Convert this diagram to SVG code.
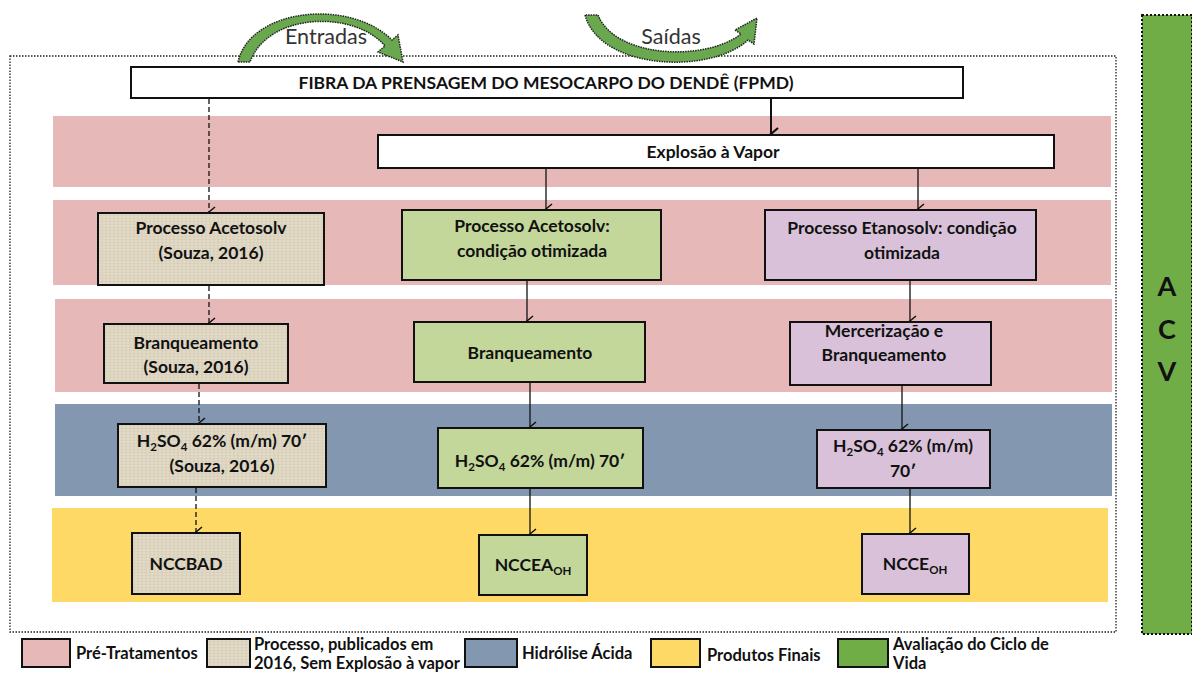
<svg xmlns="http://www.w3.org/2000/svg" width="1192" height="673" viewBox="0 0 1192 673">
<style>
.t{font-family:Lato,"Open Sans","Liberation Sans",sans-serif;font-weight:bold;fill:#111;font-size:17.5px;text-anchor:middle}
.s{font-size:11.5px}
.lg{font-family:Lato,"Open Sans","Liberation Sans",sans-serif;font-weight:bold;fill:#111;font-size:16.5px}
.box{stroke:#111;stroke-width:2}
.w{fill:#fff}.g{fill:#C4D79B}.p{fill:#D9C2D9}.b{fill:url(#tex)}
.band{stroke:none}
.c{stroke:#111;stroke-width:1.3;fill:none;marker-end:url(#ah)}
.d{stroke-dasharray:5,3}
.arc{fill:#6AA84F;stroke:#222;stroke-width:1.5;stroke-dasharray:1.5,1}
.lbl{font-family:Lato,"Open Sans","Liberation Sans",sans-serif;font-size:21.5px;fill:#333;text-anchor:middle}
</style>
<defs>
<pattern id="tex" width="8" height="6" patternUnits="userSpaceOnUse">
<rect width="8" height="6" fill="#DCD3BE"/>
<path d="M0,1H8M0,4H8" stroke="#E9E2D2" stroke-width="1"/>
<path d="M2,0V6M6,0V6" stroke="#CFC5AC" stroke-width="0.6"/>
</pattern>
<marker id="ah" markerWidth="12" markerHeight="12" refX="6" refY="10" orient="auto" markerUnits="userSpaceOnUse" viewBox="0 0 12 12">
<path d="M1,4 L6,10 L11,4" fill="none" stroke="#111" stroke-width="1.5"/>
</marker>
<marker id="ah2" markerWidth="14" markerHeight="14" refX="7" refY="12" orient="auto" markerUnits="userSpaceOnUse" viewBox="0 0 14 14">
<path d="M1,5 L7,12 L13,5" fill="none" stroke="#111" stroke-width="2.2"/>
</marker>
</defs>
<rect width="1192" height="673" fill="#fff"/>

<!-- outer dotted frame -->
<rect x="10" y="56" width="1106" height="576" fill="none" stroke="#222" stroke-width="1.3" stroke-dasharray="1.5,1.5"/>

<!-- bands -->
<g id="bands">
<rect class="band" x="53" y="116" width="1058" height="71" fill="#E6B8B7"/>
<rect class="band" x="53" y="200" width="1058" height="85" fill="#E6B8B7"/>
<rect class="band" x="55" y="299" width="1057" height="93" fill="#E6B8B7"/>
<rect class="band" x="55" y="404" width="1057" height="92" fill="#8497B0"/>
<rect class="band" x="52" y="508" width="1056" height="94" fill="#FFD966"/>
</g>

<!-- ACV -->
<g id="acv">
<rect x="1142" y="15" width="50" height="619" fill="#70AD47" stroke="#111" stroke-width="2" stroke-dasharray="2,2"/>
<text class="t" x="1167" y="296" style="font-size:27px">A</text>
<text class="t" x="1167" y="339" style="font-size:27px">C</text>
<text class="t" x="1167" y="381" style="font-size:27px">V</text>
</g>

<!-- curved arrows -->
<g id="entradas">
<path class="arc" d="M238,62 C250,8 350,-2 392,40 L398,35 L403,62 L378,52 L385,46 C355,10 268,12 250,62 Z"/>
<text class="lbl" x="326" y="44">Entradas</text>
</g>
<g id="saidas">
<path class="arc" d="M585,15 C600,70 710,75 748,40 L754,44 L757,18 L735,30 L741,34 C705,62 615,58 598,15 Z"/>
<text class="lbl" x="671" y="44">Saídas</text>
</g>

<!-- connectors -->
<g id="connectors">
<path class="c d" d="M209,99 V212"/>
<path class="c d" d="M209,286 V323"/>
<path class="c d" d="M199,384 V423"/>
<path class="c d" d="M196,488 V532"/>
<path d="M771,99 V134" stroke="#111" stroke-width="2" fill="none" marker-end="url(#ah2)"/>
<path class="c" d="M546,169 V209"/>
<path class="c" d="M918,169 V209"/>
<path class="c" d="M527,281 V321"/>
<path class="c" d="M910,281 V321"/>
<path class="c" d="M530,383 V427"/>
<path class="c" d="M902,386 V429"/>
<path class="c" d="M530,489 V534"/>
<path class="c" d="M910,489 V533"/>
</g>

<!-- nodes -->
<g id="fpmd"><rect class="box w" x="131" y="67" width="832" height="31"/>
<text class="t" x="546" y="89">FIBRA DA PRENSAGEM  DO MESOCARPO DO DENDÊ (FPMD)</text></g>

<g id="explosao"><rect class="box w" x="378" y="135" width="676" height="33"/>
<text class="t" x="713" y="158">Explosão  à Vapor</text></g>

<g id="acetosolv-souza"><rect class="box b" x="98" y="213" width="226" height="72"/>
<text class="t" x="211" y="234">Processo Acetosolv</text>
<text class="t" x="211" y="259">(Souza, 2016)</text></g>

<g id="acetosolv-otim"><rect class="box g" x="402" y="210" width="259" height="70"/>
<text class="t" x="532" y="232">Processo Acetosolv:</text>
<text class="t" x="532" y="257">condição otimizada</text></g>

<g id="etanosolv"><rect class="box p" x="765" y="210" width="271" height="70"/>
<text class="t" x="902" y="234">Processo Etanosolv:  condição</text>
<text class="t" x="902" y="259">otimizada</text></g>

<g id="branq-souza"><rect class="box b" x="104" y="324" width="184" height="59"/>
<text class="t" x="196" y="349">Branqueamento</text>
<text class="t" x="196" y="373">(Souza, 2016)</text></g>

<g id="branq"><rect class="box g" x="414" y="322" width="231" height="60"/>
<text class="t" x="530" y="359">Branqueamento</text></g>

<g id="merc"><rect class="box p" x="790" y="322" width="201" height="63"/>
<text class="t" x="884" y="337">Mercerização  e</text>
<text class="t" x="884" y="361">Branqueamento</text></g>

<g id="h2so4-souza"><rect class="box b" x="118" y="424" width="208" height="63"/>
<text class="t" x="222" y="447">H<tspan class="s" dy="4">2</tspan><tspan dy="-4">SO</tspan><tspan class="s" dy="4">4</tspan><tspan dy="-4"> 62% (m/m) 70′</tspan></text>
<text class="t" x="222" y="472">(Souza, 2016)</text></g>

<g id="h2so4-g"><rect class="box g" x="438" y="428" width="205" height="60"/>
<text class="t" x="540" y="467">H<tspan class="s" dy="4">2</tspan><tspan dy="-4">SO</tspan><tspan class="s" dy="4">4</tspan><tspan dy="-4"> 62% (m/m) 70′</tspan></text></g>

<g id="h2so4-p"><rect class="box p" x="817" y="430" width="173" height="58"/>
<text class="t" x="903" y="452">H<tspan class="s" dy="4">2</tspan><tspan dy="-4">SO</tspan><tspan class="s" dy="4">4</tspan><tspan dy="-4"> 62% (m/m)</tspan></text>
<text class="t" x="903" y="477">70′</text></g>

<g id="nccbad"><rect class="box b" x="132" y="533" width="108" height="61"/>
<text class="t" x="186" y="570">NCCBAD</text></g>

<g id="nccea"><rect class="box g" x="479" y="535" width="108" height="60"/>
<text class="t" x="533" y="571">NCCEA<tspan class="s" dy="4">OH</tspan></text></g>

<g id="ncce"><rect class="box p" x="862" y="534" width="107" height="60"/>
<text class="t" x="915" y="570">NCCE<tspan class="s" dy="4">OH</tspan></text></g>

<!-- legend -->
<g id="legend">
<rect class="box" x="22" y="639" width="48" height="28" fill="#E6B8B7"/>
<text class="lg" x="76" y="659">Pré-Tratamentos</text>
<rect class="box b" x="207" y="639" width="43" height="28"/>
<text class="lg" x="254" y="650">Processo, publicados em</text>
<text class="lg" x="254" y="669">2016, Sem Explosão à vapor</text>
<rect class="box" x="465" y="639" width="52" height="28" fill="#8497B0"/>
<text class="lg" x="522" y="659">Hidrólise Ácida</text>
<rect class="box" x="651" y="639" width="49" height="28" fill="#FFD966"/>
<text class="lg" x="707" y="661">Produtos Finais</text>
<rect class="box" x="838" y="639" width="50" height="28" fill="#70AD47"/>
<text class="lg" x="893" y="650">Avaliação do Ciclo de</text>
<text class="lg" x="893" y="669">Vida</text>
</g>
</svg>
